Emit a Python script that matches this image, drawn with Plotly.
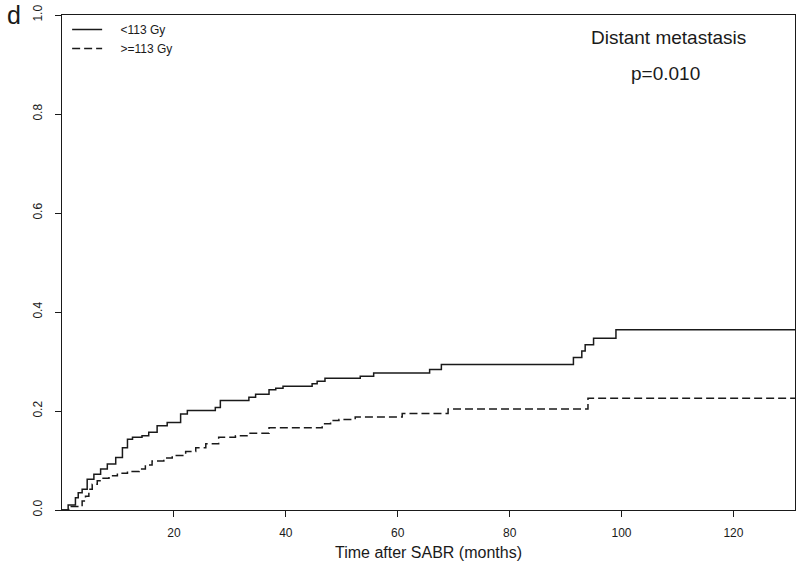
import plotly.graph_objects as go

# Cumulative incidence of distant metastasis, step functions (time in months)
time_low = [0, 1.1, 2.4, 2.9, 3.6, 4.5, 5.7, 6.9, 8.1, 9.6, 10.8, 11.7, 12.6, 14.3, 15.5, 17.0,
            18.8, 21.2, 22.4, 27.4, 28.3, 33.4, 34.6, 37.0, 38.2, 39.5, 44.7, 45.6, 47.0, 53.3,
            55.7, 65.7, 67.8, 91.4, 92.9, 93.5, 95.0, 99.0, 131.0]
ci_low = [0, 0.010, 0.025, 0.035, 0.042, 0.062, 0.072, 0.083, 0.093, 0.106, 0.126, 0.143, 0.147,
          0.150, 0.157, 0.170, 0.177, 0.194, 0.201, 0.207, 0.221, 0.228, 0.234, 0.243, 0.246,
          0.250, 0.255, 0.260, 0.266, 0.270, 0.277, 0.284, 0.294, 0.308, 0.321, 0.334, 0.347,
          0.364, 0.364]

time_high = [0, 1.2, 3.6, 4.2, 4.8, 5.4, 6.3, 7.2, 8.4, 9.9, 11.7, 13.8, 14.9, 16.1, 18.2, 19.7,
             22.1, 23.9, 25.7, 28.0, 31.0, 33.4, 37.0, 46.5, 48.0, 49.5, 52.4, 60.8, 69.0, 94.0,
             131.0]
ci_high = [0, 0.007, 0.018, 0.028, 0.042, 0.052, 0.059, 0.064, 0.069, 0.074, 0.078, 0.083, 0.091,
           0.099, 0.105, 0.110, 0.118, 0.126, 0.134, 0.147, 0.150, 0.155, 0.166, 0.174, 0.181,
           0.183, 0.188, 0.195, 0.204, 0.226, 0.226]

series_names = ["&nbsp;&nbsp;&nbsp;&nbsp;&lt;113 Gy", "&nbsp;&nbsp;&nbsp;&nbsp;>=113 Gy"]
x_ticks = [20, 40, 60, 80, 100, 120]
y_ticks = [0.0, 0.2, 0.4, 0.6, 0.8, 1.0]

FONT = "Liberation Sans, Arial, sans-serif"
INK = "#1a1a1a"

fig = go.Figure()
fig.add_trace(go.Scatter(x=time_low, y=ci_low, mode="lines", name=series_names[0],
                         line=dict(shape="hv", color=INK, width=1.5, dash="solid")))
fig.add_trace(go.Scatter(x=time_high, y=ci_high, mode="lines", name=series_names[1],
                         line=dict(shape="hv", color=INK, width=1.5, dash="8px,4px")))

fig.update_layout(
    width=800, height=569,
    margin=dict(l=62, r=5, t=15, b=59, autoexpand=False),
    paper_bgcolor="white", plot_bgcolor="white",
    font=dict(family=FONT, color=INK, size=12),
    showlegend=True,
    legend=dict(x=0.007, y=1.0, xanchor="left", yanchor="top", bgcolor="rgba(0,0,0,0)",
                font=dict(size=12, family=FONT, color=INK), tracegroupgap=0,
                itemwidth=30, borderwidth=0),
    xaxis=dict(range=[0, 131], tickvals=x_ticks, ticks="outside", ticklen=6, tickwidth=1,
               tickcolor=INK, showgrid=False, zeroline=False, showline=True, mirror=True,
               linecolor=INK, linewidth=1, automargin=False, ticklabelstandoff=6,
               title=dict(text="Time after SABR (months)", font=dict(size=16, family=FONT), standoff=7),
               tickfont=dict(size=12, family=FONT)),
    yaxis=dict(range=[0, 1], tickvals=y_ticks, tickformat=".1f", ticks="outside", ticklen=6,
               tickwidth=1, tickcolor=INK, tickangle=-90, showgrid=False, zeroline=False,
               showline=True, mirror=True, linecolor=INK, linewidth=1, automargin=False,
               ticklabelstandoff=8, tickfont=dict(size=12, family=FONT)),
)

fig.add_annotation(text="Distant metastasis", xref="paper", yref="paper", x=0.827, y=0.954,
                   xanchor="center", yanchor="middle", showarrow=False,
                   font=dict(size=19, family=FONT, color=INK))
fig.add_annotation(text="p=0.010", xref="paper", yref="paper", x=0.823, y=0.881,
                   xanchor="center", yanchor="middle", showarrow=False,
                   font=dict(size=19, family=FONT, color=INK))
fig.add_annotation(text="d", xref="paper", yref="paper", x=-0.066, y=1.0, xanchor="center",
                   yanchor="middle", showarrow=False, font=dict(size=25, family=FONT, color=INK))

fig.write_html("out.html", config={"displayModeBar": False},
               post_script="document.body.style.margin='0';")
